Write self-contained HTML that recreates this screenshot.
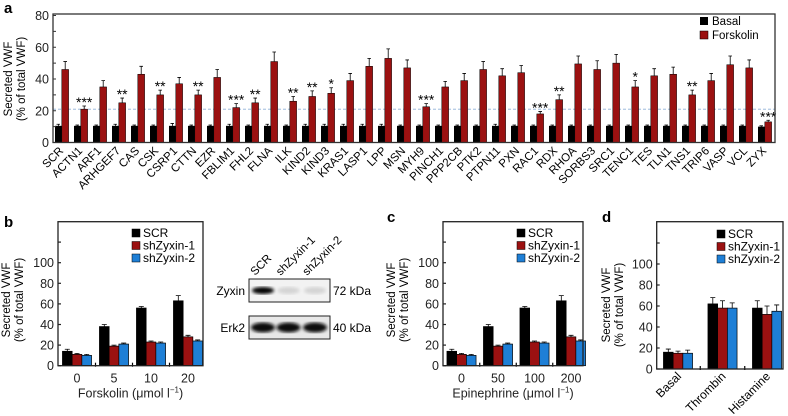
<!DOCTYPE html>
<html><head><meta charset="utf-8"><style>
html,body{margin:0;padding:0;background:#fff;}
svg{display:block;font-family:"Liberation Sans",Arial,sans-serif;}
</style></head><body>
<svg id="fig" width="788" height="416" viewBox="0 0 788 416" xmlns="http://www.w3.org/2000/svg">
<defs>
<filter id="blur1"><feGaussianBlur stdDeviation="1.6"/></filter>
</defs>
</svg>
<script>
// ---------- Panel a data ----------
const catsA = ["SCR","ACTN1","ARF1","ARHGEF7","CAS","CSK","CSRP1","CTTN","EZR","FBLIM1","FHL2","FLNA","ILK","KIND2","KIND3","KRAS1","LASP1","LPP","MSN","MYH9","PINCH1","PPP2CB","PTK2","PTPN11","PXN","RAC1","RDX","RHOA","SORBS3","SRC1","TENC1","TES","TLN1","TNS1","TRIP6","VASP","VCL","ZYX"];
const basalA = [10.5,10.5,10.5,10.5,10.5,10.5,10.5,10.5,10.5,10.5,10.5,10.5,10.5,10.5,10.5,10.5,10.5,10.5,10.5,10.5,10.5,10.5,10.5,10.5,10.5,10.5,10.5,10.5,10.5,10.5,10.5,10.5,10.5,10.5,10.5,10.5,10.5,10];
const basalErrA = [1,0.5,0.5,1,0.5,0.5,1.5,0.5,0.5,1,0.5,1,0.5,1,1,1,1,1,0.5,0.5,0.5,0.5,0.5,1,0.5,0.5,0.5,0.5,0.5,0.5,0.5,0.5,0.5,0.5,0.5,0.5,0.5,0.5];
const forskA = [46,21,35,25,43,30,37,30,41,22,25,51,26,29,31,39,48,53,47,22.5,35,39,46,42,44,18,27,49.5,46,50,35,42,43,30,39,49,47,13];
const forskErrA = [5,2,4,3,5,3,4,3,5,2.5,3,6,3,3.5,3.5,4.5,5,6,5,2,3.5,4.5,5,4.5,4.5,1.5,3,5,5.5,5.5,4,4.5,4.5,3,4.5,5.5,5,1];
const starsA = ["","***","","**","","**","","**","","***","**","","**","**","*","","","","","***","","","","","","***","**","","","","*","","","**","","","","***"];
const ticksA = [0,20,40,60,80];
const refLineA = 21;

// ---------- Panels b/c/d data ----------
const seriesNames = ["SCR","shZyxin-1","shZyxin-2"];
const catsB = ["0","5","10","20"];
const scrB = [14,38,56,63];
const sh1B = [11,19,23,28];
const sh2B = [10,21,22,24];
const scrErrB = [2,2,1.5,5];
const sh1ErrB = [1,1,1,1.5];
const sh2ErrB = [1,1,1,1];
const catsC = ["0","50","100","200"];
const scrC = [14,38,56,63];
const sh1C = [11,19,23,28];
const sh2C = [10,21,22,24];
const scrErrC = [2,2,1.5,5];
const sh1ErrC = [1,1,1,1.5];
const sh2ErrC = [1,1,1,1];
const catsD = ["Basal","Thrombin","Histamine"];
const scrD = [16,62,58];
const sh1D = [15,58,52];
const sh2D = [15,58,55];
const scrErrD = [3,6,7];
const sh1ErrD = [2,7,8];
const sh2ErrD = [3,5,6];
const ticksBCD = [0,20,40,60,80,100];

const NS = "http://www.w3.org/2000/svg";
const svg = document.getElementById("fig");
function mk(tag, attrs, parent){
  const el = document.createElementNS(NS, tag);
  for (const k in attrs) el.setAttribute(k, attrs[k]);
  (parent || svg).appendChild(el);
  return el;
}
function txt(s, attrs, parent){
  const el = mk("text", attrs, parent);
  el.textContent = s;
  return el;
}
const COLORS = ["#000000","#9b1111","#1e7fd6"];

// ================= Panel a =================
const gA = mk("g", {});


const aL = 53, aR = 775, aT = 14, aY0 = 142.5, aS = 1.5875, aStep = 19.0;
const ya = v => aY0 - v * aS;
const xa = i => aL + 2 + i * aStep;
const abw = 6.8;
let el;
el = txt("a", {x:4, y:13, "font-size":15, "font-weight":"bold"}, gA);


el = mk("line", {x1:aL, x2:aR, y1:ya(refLineA), y2:ya(refLineA), stroke:"#8fb0d8", "stroke-width":0.8, "stroke-dasharray":"3,2"}, gA);


for (let i = 0; i < catsA.length; i++) {
  const x = xa(i);
  el = mk("rect", {x:x, y:ya(basalA[i]), width:abw, height:aY0 - ya(basalA[i]), fill:"#000"}, gA);
  
  
  el = mk("path", {d:`M${x+abw/2},${ya(basalA[i])} V${ya(basalA[i]+basalErrA[i])} M${x+1.5},${ya(basalA[i]+basalErrA[i])} H${x+5}`, stroke:"#000", "stroke-width":0.8, fill:"none"}, gA);
  
  
  el = mk("rect", {x:x+abw, y:ya(forskA[i]), width:abw, height:aY0 - ya(forskA[i]), fill:"#9b1111", stroke:"#000", "stroke-width":0.5}, gA);
  
  
  const tx = x + abw * 1.5, te = ya(forskA[i] + forskErrA[i]);
  el = mk("path", {d:`M${tx},${ya(forskA[i])} V${te} M${tx-1.8},${te} H${tx+1.8}`, stroke:"#000", "stroke-width":0.8, fill:"none"}, gA);
  
  
  if (starsA[i]) {
    el = txt(starsA[i], {x:tx, y:te + 1, "font-size":14, "text-anchor":"middle"}, gA);
    
    
  }
  el = txt(catsA[i], {x:0, y:0, "font-size":11.5, "text-anchor":"end", transform:`translate(${x+9},${aY0+9}) rotate(-45)`}, gA);
  
  
}
el = mk("rect", {x:aL, y:aT, width:aR-aL, height:aY0-aT, fill:"none", stroke:"#333", "stroke-width":1.3}, gA);


for (let v = 0; v <= 80; v += 10) {
  el = mk("line", {x1:aL, x2:aL+3, y1:ya(v), y2:ya(v), stroke:"#333", "stroke-width":1}, gA);
  
  
}
ticksA.forEach(v => {
  el = txt(String(v), {x:aL-4, y:ya(v)+4.5, "font-size":12.5, "text-anchor":"end", fill:"#222"}, gA);
  
  
});
el = txt("Secreted VWF", {x:0, y:0, "font-size":11.5, "text-anchor":"middle", transform:"translate(12,79) rotate(-90)"}, gA);


el = txt("(% of total VWF)", {x:0, y:0, "font-size":11.5, "text-anchor":"middle", transform:"translate(25,79) rotate(-90)"}, gA);


el = mk("rect", {x:700, y:17, width:8, height:8, fill:"#000"}, gA);


el = txt("Basal", {x:712, y:25, "font-size":11.5}, gA);


el = mk("rect", {x:700, y:31, width:8, height:8, fill:"#9b1111", stroke:"#000", "stroke-width":0.5}, gA);


el = txt("Forskolin", {x:712, y:39, "font-size":11.5}, gA);



// ================= Panels b/c/d =================
function groupPanel(cfg) {
  const g = mk("g", {});
  
  
  const y = v => cfg.y0 - v * cfg.s;
  const vals = [cfg.scr, cfg.sh1, cfg.sh2];
  const errs = [cfg.scrErr, cfg.sh1Err, cfg.sh2Err];
  const bw = 9.7;
  let e;
  e = txt(cfg.letter, {x:cfg.lx, y:cfg.ly, "font-size":15, "font-weight":"bold"}, g);
  
  
  for (let gi = 0; gi < cfg.cats.length; gi++) {
    const c = cfg.x0 + gi * cfg.step;
    for (let si = 0; si < 3; si++) {
      const x = c - 1.5 * bw + si * bw;
      const v = vals[si][gi], er = errs[si][gi];
      e = mk("path", {d:`M${x+bw/2},${y(v)} V${y(v+er)} M${x+bw/2-2.5},${y(v+er)} H${x+bw/2+2.5}`, stroke:"#000", "stroke-width":0.8, fill:"none"}, g);
      
      
      e = mk("rect", {x:x, y:y(v), width:bw, height:cfg.y0 - y(v), fill:COLORS[si], stroke:"#000", "stroke-width":0.7}, g);
      
      
    }
    if (cfg.rotLabels) {
      e = txt(cfg.cats[gi], {x:0, y:0, "font-size":12, "text-anchor":"end", transform:`translate(${c+4},${cfg.y0+8}) rotate(-45)`}, g);
    } else {
      e = txt(cfg.cats[gi], {x:c, y:cfg.y0+17, "font-size":12.5, "text-anchor":"middle", fill:"#222"}, g);
    }
    
    
    if (gi > 0) {
      const mx = c - cfg.step / 2;
      e = mk("line", {x1:mx, x2:mx, y1:cfg.y0-3, y2:cfg.y0+1, stroke:"#000", "stroke-width":1.2}, g);
      
      
    }
  }
  e = mk("rect", {x:cfg.L, y:cfg.T, width:cfg.R-cfg.L, height:cfg.y0-cfg.T, fill:"none", stroke:"#222", "stroke-width":1.3}, g);
  
  
  for (let v = 0; v <= 120; v += 20) {
    e = mk("line", {x1:cfg.L, x2:cfg.L+3, y1:y(v), y2:y(v), stroke:"#222", "stroke-width":1.2}, g);
    
    
  }
  ticksBCD.forEach(v => {
    e = txt(String(v), {x:cfg.L-4, y:y(v)+4.5, "font-size":12.5, "text-anchor":"end", fill:"#222"}, g);
    
    
  });
  e = txt("Secreted VWF", {x:0, y:0, "font-size":11.5, "text-anchor":"middle", transform:`translate(${cfg.yl1},${cfg.ylc}) rotate(-90)`}, g);
  
  
  e = txt("(% of total VWF)", {x:0, y:0, "font-size":11.5, "text-anchor":"middle", transform:`translate(${cfg.yl1+13},${cfg.ylc}) rotate(-90)`}, g);
  
  
  if (cfg.xtitle) {
    e = txt(cfg.xtitle, {x:(cfg.L+cfg.R)/2, y:cfg.y0+32, "font-size":12.5, "text-anchor":"middle", fill:"#222"}, g);
    
    
    const sup = document.createElementNS(NS, "tspan");
    sup.setAttribute("font-size", 8);
    sup.setAttribute("dy", -5);
    sup.textContent = "\u22121";
    e.appendChild(sup);
    const cl = document.createElementNS(NS, "tspan");
    cl.setAttribute("dy", 5);
    cl.textContent = ")";
    e.appendChild(cl);
  }
  for (let si = 0; si < 3; si++) {
    const ly = cfg.legY + si * 12.5;
    e = mk("rect", {x:cfg.legX, y:ly-8, width:8, height:8, fill:COLORS[si], stroke:"#000", "stroke-width":0.5}, g);
    
    
    e = txt(seriesNames[si], {x:cfg.legX+11, y:ly, "font-size":12}, g);
    
    
  }
}
groupPanel({name:"panel-b", letter:"b", lx:4, ly:227, L:58, R:203, T:221.7, y0:365.7, s:1.03,
  x0:77, step:37, cats:catsB, scr:scrB, sh1:sh1B, sh2:sh2B, scrErr:scrErrB, sh1Err:sh1ErrB, sh2Err:sh2ErrB,
  yl1:10, ylc:300, xtitle:"Forskolin (\u03bcmol l", legX:132, legY:237});
groupPanel({name:"panel-c", letter:"c", lx:387, ly:222, L:443, R:583, T:221.7, y0:365.7, s:1.03,
  x0:461.5, step:36.5, cats:catsC, scr:scrC, sh1:sh1C, sh2:sh2C, scrErr:scrErrC, sh1Err:sh1ErrC, sh2Err:sh2ErrC,
  yl1:395, ylc:300, xtitle:"Epinephrine (\u03bcmol l", legX:517, legY:237});
groupPanel({name:"panel-d", letter:"d", lx:602, ly:222, L:656.7, R:783, T:221.7, y0:369, s:1.05,
  x0:678, step:44.5, cats:catsD, scr:scrD, sh1:sh1D, sh2:sh2D, scrErr:scrErrD, sh1Err:sh1ErrD, sh2Err:sh2ErrD,
  yl1:610, ylc:305, xtitle:null, rotLabels:true, legX:717, legY:238});

// ================= Western blot =================
const gW = mk("g", {});


const lanes = ["SCR","shZyxin-1","shZyxin-2"];
const laneX = [263, 288.5, 315];
const zyxinBand = [1, 0.12, 0.12];
lanes.forEach((n, i) => {
  el = txt(n, {x:0, y:0, "font-size":11.5, transform:`translate(${laneX[i]-8},${276}) rotate(-45)`}, gW);
  
  
});
el = mk("rect", {x:249, y:279, width:81, height:23, fill:"#f2f2f2", stroke:"#222", "stroke-width":1}, gW);


el = mk("rect", {x:249, y:316, width:81, height:23, fill:"#e8e8e8", stroke:"#222", "stroke-width":1}, gW);


lanes.forEach((n, i) => {
  el = mk("ellipse", {cx:laneX[i], cy:290.5, rx:11, ry:3.5, fill:"#000", opacity:zyxinBand[i], filter:"url(#blur1)"}, gW);
  
  
  el = mk("ellipse", {cx:laneX[i], cy:327.5, rx:12, ry:5, fill:"#111", filter:"url(#blur1)"}, gW);
  
  
});
el = txt("Zyxin", {x:245, y:295, "font-size":12, "text-anchor":"end"}, gW);


el = txt("Erk2", {x:245, y:332, "font-size":12, "text-anchor":"end"}, gW);


el = txt("72 kDa", {x:333, y:295, "font-size":12}, gW);


el = txt("40 kDa", {x:333, y:332, "font-size":12}, gW);


</script>
</body></html>
